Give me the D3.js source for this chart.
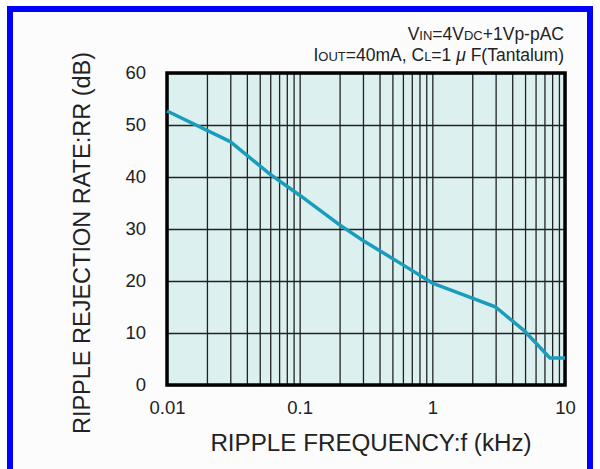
<!DOCTYPE html>
<html>
<head>
<meta charset="utf-8">
<script src="https://cdn.jsdelivr.net/npm/d3@7"></script>
<style>
 body{margin:0;background:#fff;}
 text{font-family:Arial,"Liberation Sans",sans-serif;fill:#222;}
</style>
</head>
<body>
<div id="chart"></div>
<script>
// ripple rejection vs frequency
var freqs = [0.01, 0.03, 0.06, 0.1, 0.2, 0.3, 0.6, 1, 2, 3, 5, 7.7, 10];
var rr    = [52.7, 46.8, 40.5, 36.5, 30.8, 27.8, 23.1, 19.6, 16.7, 15, 10.3, 5.2, 5.2];
var xTickVals = [0.01, 0.1, 1, 10];
var xTickLabels = ["0.01", "0.1", "1", "10"];
var yTickVals = [0, 10, 20, 30, 40, 50, 60];

function drawChart(){
  var W = 600, H = 469;
  var L = 167, R = 565, T = 73, B = 385;

  var svg = d3.select("#chart").append("svg")
      .attr("width", W)
      .attr("height", H);

  // panel with blue border
  svg.append("rect")
     .attr("x", 10).attr("y", 9)
     .attr("width", 580).attr("height", 470)
     .attr("fill", "#fcfcfc")
     .attr("stroke", "#0000ff")
     .attr("stroke-width", 6);

  var x = d3.scaleLog().domain([0.01, 10]).range([L, R]);
  var y = d3.scaleLinear().domain([0, 60]).range([B, T]);

  svg.append("rect")
     .attr("x", L).attr("y", T)
     .attr("width", R - L).attr("height", B - T)
     .attr("fill", "#ddf0f0");

  // grid
  var gx = svg.append("g")
     .attr("transform", "translate(0," + B + ")")
     .call(d3.axisBottom(x).ticks(10).tickSize(-(B - T)).tickFormat(""));
  var gy = svg.append("g")
     .attr("transform", "translate(" + L + ",0)")
     .call(d3.axisLeft(y).tickValues(yTickVals).tickSize(-(R - L)).tickFormat(""));
  [gx, gy].forEach(function(g){
    g.select(".domain").remove();
    g.selectAll("line").attr("stroke", "#222").attr("stroke-width", 1.3);
  });

  // frame
  svg.append("rect")
     .attr("x", L).attr("y", T)
     .attr("width", R - L).attr("height", B - T)
     .attr("fill", "none")
     .attr("stroke", "#000")
     .attr("stroke-width", 3.5);

  // tick labels
  var ax = svg.append("g")
     .attr("transform", "translate(0," + (B + 13) + ")")
     .call(d3.axisBottom(x).tickValues(xTickVals).tickSize(0)
       .tickFormat(function(d, i){ return xTickLabels[i]; }));
  ax.select(".domain").remove();
  ax.selectAll("text").attr("font-size", 18.5).attr("fill", "#222");

  var ay = svg.append("g")
     .attr("transform", "translate(" + (L - 18) + ",0)")
     .call(d3.axisLeft(y).tickValues(yTickVals).tickSize(0));
  ay.select(".domain").remove();
  ay.selectAll("text").attr("font-size", 18.5).attr("fill", "#222");

  // curve
  var pts = freqs.map(function(f, i){ return [f, rr[i]]; });
  var line = d3.line()
     .x(function(d){ return x(d[0]); })
     .y(function(d){ return y(d[1]); });
  svg.append("path")
     .attr("d", line(pts))
     .attr("fill", "none")
     .attr("stroke", "#1a9dbd")
     .attr("stroke-width", 3.5)
     .attr("stroke-linejoin", "round");

  // axis titles
  svg.append("text")
     .attr("x", 371).attr("y", 451)
     .attr("text-anchor", "middle")
     .attr("font-size", 24.2)
     .text("RIPPLE FREQUENCY:f (kHz)");
  svg.append("text")
     .attr("transform", "translate(90,243) rotate(-90)")
     .attr("text-anchor", "middle")
     .attr("font-size", 23.5)
     .text("RIPPLE REJECTION RATE:RR (dB)");

  // conditions
  var c1 = svg.append("text").attr("x", 564).attr("y", 40)
     .attr("text-anchor", "end").attr("font-size", 17.5);
  c1.append("tspan").text("V");
  c1.append("tspan").attr("font-size", 13).text("IN");
  c1.append("tspan").text("=4V");
  c1.append("tspan").attr("font-size", 13).text("DC");
  c1.append("tspan").text("+1Vp-pAC");

  var c2 = svg.append("text").attr("x", 564).attr("y", 61)
     .attr("text-anchor", "end").attr("font-size", 17.5);
  c2.append("tspan").text("I");
  c2.append("tspan").attr("font-size", 13).text("OUT");
  c2.append("tspan").text("=40mA, C");
  c2.append("tspan").attr("font-size", 13).text("L");
  c2.append("tspan").text("=1 ");
  c2.append("tspan").attr("font-style", "italic").text("μ");
  c2.append("tspan").text(" F(Tantalum)");
}
drawChart();
</script>
</body>
</html>
